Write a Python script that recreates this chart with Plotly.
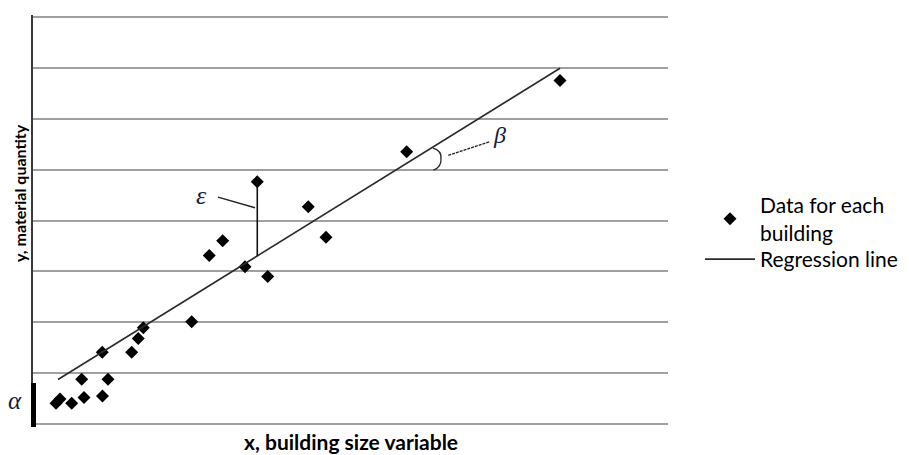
import plotly.graph_objects as go

# Building data: size variable (x) vs material quantity (y)
building_x = [3.62, 4.25, 6.09, 8.03, 7.67, 10.94, 11.81, 10.91, 15.54, 16.58, 17.37,
              24.99, 27.76, 29.87, 33.39, 35.32, 36.96, 43.35, 46.14, 58.85, 82.99]
building_y = [0.41, 0.49, 0.41, 0.52, 0.88, 0.55, 0.88, 1.41, 1.41, 1.68, 1.89,
              2.01, 3.31, 3.60, 3.09, 4.76, 2.90, 4.27, 3.67, 5.35, 6.75]

# Regression line y = alpha + beta * x
reg_intercept = 0.57
reg_slope = 0.0774
reg_x = [3.94, 82.99]
reg_y = [reg_intercept + reg_slope * v for v in reg_x]

# Point used to illustrate the residual epsilon
resid_index = 15

X_MAX, Y_MAX = 100.0, 8.0
W, H = 909, 455
# plot box edges in pixels (gridlines y=0 at 424, y=8 at 17)
LEFT, RIGHT, TOP, BOTTOM = 33, 668, 17, 424
PX_X = (RIGHT - LEFT) / X_MAX
PX_Y = (BOTTOM - TOP) / Y_MAX
PAD_Y = 2 / PX_Y        # small headroom so the outer gridlines get drawn

L, R = LEFT, W - RIGHT
T, B = TOP - 2, H - BOTTOM - 2
PW, PH = W - L - R, H - T - B


def paper_x(px):
    return (px - L) / PW


def paper_y(py):
    return (H - B - py) / PH


LABEL_FONT = "Lato, 'Open Sans', sans-serif"
GREEK_FONT = "'Liberation Serif', 'DejaVu Serif', serif"
GREEK_COLOR = "#161c40"
LEGEND_FONT = dict(family=LABEL_FONT, size=21, color="#000000")

fig = go.Figure()

fig.add_trace(go.Scatter(
    x=building_x, y=building_y, mode="markers",
    name="Data for each<br>building", legend="legend",
    marker=dict(symbol="diamond", size=10, color="#000000", line=dict(width=0)),
))
fig.add_trace(go.Scatter(
    x=reg_x, y=reg_y, mode="lines", name="Regression line", legend="legend2",
    line=dict(color="#2a2a2a", width=1.6),
))

shapes = []

# residual epsilon: vertical segment from the point down to the fitted line
rx, ry = building_x[resid_index], building_y[resid_index]
shapes.append(dict(type="line", xref="x", yref="y", x0=rx, x1=rx, y0=ry,
                   y1=reg_intercept + reg_slope * rx,
                   line=dict(color="#111111", width=1.6)))
# leader from the epsilon label to the residual segment
shapes.append(dict(type="line", xref="x", yref="y", x0=29.13, y0=4.46, x1=rx - 0.35, y1=4.25,
                   line=dict(color="#222222", width=1.4)))

# beta: brace-shaped angle mark where the fitted line crosses the y=5 gridline
cy = 5.0
cx = (cy - reg_intercept) / reg_slope


def pt(dx_px, dy_px):
    """Offset in screen pixels from the crossing point, returned in data units."""
    return cx + dx_px / PX_X, cy - dy_px / PX_Y


p_top = pt(36.5, -21.5)
c1 = pt(45.5, -19.0)
p_mid = pt(44.5, -11.0)
c2 = pt(45.5, -3.0)
p_bot = pt(37.0, 0.5)
brace = (f"M {p_top[0]},{p_top[1]} Q {c1[0]},{c1[1]} {p_mid[0]},{p_mid[1]} "
         f"Q {c2[0]},{c2[1]} {p_bot[0]},{p_bot[1]}")
shapes.append(dict(type="path", xref="x", yref="y", path=brace,
                   line=dict(color="#222222", width=1.3)))
# leader from the beta label to the angle mark
shapes.append(dict(type="line", xref="x", yref="y", x0=65.40, y0=5.28, x1=71.97, y1=5.55,
                   line=dict(color="#222222", width=1.4, dash="3px,1px")))

# alpha: thick bar on the y axis showing the intercept
shapes.append(dict(type="line", xref="paper", yref="paper",
                   x0=paper_x(33.5), x1=paper_x(33.5), y0=paper_y(427), y1=paper_y(383),
                   line=dict(color="#000000", width=5)))

annotations = [
    dict(text="<i>ε</i>", x=26.46, y=4.50, xref="x", yref="y", showarrow=False,
         xanchor="center", yanchor="middle",
         font=dict(family=GREEK_FONT, size=26, color=GREEK_COLOR)),
    dict(text="<i>β</i>", x=73.54, y=5.68, xref="x", yref="y", showarrow=False,
         xanchor="center", yanchor="middle",
         font=dict(family=GREEK_FONT, size=24, color=GREEK_COLOR)),
    dict(text="<i>α</i>", x=paper_x(15), y=paper_y(400), xref="paper", yref="paper",
         showarrow=False, xanchor="center", yanchor="middle",
         font=dict(family=GREEK_FONT, size=25, color=GREEK_COLOR)),
    dict(text="<b>y, material quantity</b>", x=paper_x(19), y=paper_y(193),
         xref="paper", yref="paper", showarrow=False, textangle=-90,
         xanchor="center", yanchor="middle",
         font=dict(family=LABEL_FONT, size=16, color="#000000")),
    dict(text="<b>x, building size variable</b>", x=paper_x(351), y=paper_y(441),
         xref="paper", yref="paper", showarrow=False, xanchor="center", yanchor="middle",
         font=dict(family=LABEL_FONT, size=21, color="#000000")),
]

legend_common = dict(xanchor="left", yanchor="top", font=LEGEND_FONT, itemwidth=50,
                     tracegroupgap=0, bgcolor="rgba(0,0,0,0)", borderwidth=0,
                     valign="middle")

fig.update_layout(
    width=W, height=H,
    margin=dict(l=L, r=R, t=T, b=B, pad=0, autoexpand=False),
    paper_bgcolor="#ffffff", plot_bgcolor="#ffffff",
    showlegend=True,
    legend=dict(x=paper_x(700), y=paper_y(185), **legend_common),
    legend2=dict(x=paper_x(700), y=paper_y(239), **legend_common),
    xaxis=dict(range=[0, X_MAX], showgrid=False, zeroline=False, showline=False,
               showticklabels=False, ticks=""),
    yaxis=dict(range=[-PAD_Y, Y_MAX + PAD_Y], tick0=0, dtick=1, showgrid=True,
               gridcolor="#a0a0a0", gridwidth=2,
               zeroline=False, showline=True, linecolor="#3a3a3a", linewidth=2,
               showticklabels=False, ticks=""),
    shapes=shapes,
    annotations=annotations,
)

fig.write_html("out.html")
